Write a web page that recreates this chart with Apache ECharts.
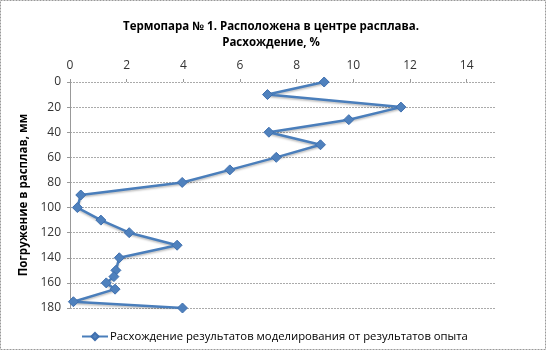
<!DOCTYPE html>
<html lang="ru">
<head>
    <meta charset="UTF-8">
    <title>Термопара № 1</title>
    <script src="https://cdn.jsdelivr.net/npm/echarts@6/dist/echarts.min.js"></script>
    <style>
        html, body { margin: 0; padding: 0; background: #fff; }
        #chart { width: 547px; height: 351px; }
    </style>
</head>
<body>
<div id="chart"></div>
<script>
    // глубина погружения, мм
    var depth = [0, 10, 20, 30, 40, 50, 60, 70, 80, 90, 100, 110, 120, 130, 140, 150, 155, 160, 165, 175, 180];
    // расхождение, %
    var diff = [8.97, 6.97, 11.68, 9.84, 7.02, 8.84, 7.28, 5.64, 3.96, 0.38, 0.26, 1.09, 2.09, 3.78, 1.74, 1.62, 1.55, 1.28, 1.59, 0.12, 3.97];
    var xTicks = [0, 2, 4, 6, 8, 10, 12, 14];
    var yTicks = [0, 20, 40, 60, 80, 100, 120, 140, 160, 180];

    var points = [];
    for (var i = 0; i < depth.length; i++) {
        points.push([diff[i], depth[i]]);
    }

    var chart = echarts.init(document.getElementById('chart'));
    var font = '"Open Sans", "Noto Sans", sans-serif';
    var option = {
        animation: false,
        title: {
            text: 'Термопара № 1. Расположена в центре расплава.\nРасхождение, %',
            left: 266,
            top: 14,
            textAlign: 'center',
            textStyle: {
                fontFamily: font,
                fontSize: 11.5,
                fontWeight: 'bold',
                color: '#000',
                lineHeight: 16
            }
        },
        legend: {
            data: ['Расхождение результатов моделирования от результатов опыта'],
            left: 76,
            top: 326,
            itemWidth: 26,
            itemHeight: 9,
            itemGap: 4,
            textStyle: {fontFamily: font, fontSize: 11.3, color: '#000', padding: [0, 0, 0, -3]}
        },
        grid: {
            left: 70,
            right: 52,
            top: 82,
            bottom: 43
        },
        xAxis: {
            type: 'value',
            position: 'top',
            min: 0,
            max: 15,
            interval: 2,
            axisLine: {show: false},
            axisTick: {show: true, length: 3, customValues: xTicks, lineStyle: {color: '#999'}},
            axisLabel: {customValues: xTicks, margin: 10, fontFamily: font, fontSize: 12, color: '#333'},
            splitLine: {show: false}
        },
        yAxis: {
            type: 'value',
            inverse: true,
            min: 0,
            max: 180,
            interval: 20,
            name: 'Погружение в расплав, мм',
            nameLocation: 'middle',
            nameGap: 38,
            nameRotate: 90,
            nameTextStyle: {fontFamily: font, fontSize: 11.5, fontWeight: 'bold', color: '#000'},
            axisLine: {show: true, lineStyle: {color: '#999'}},
            axisTick: {show: true, length: 3, lineStyle: {color: '#999'}},
            axisLabel: {customValues: yTicks, margin: 9, fontFamily: font, fontSize: 12, color: '#333'},
            splitLine: {show: true, lineStyle: {color: '#aaa', type: [2, 1], width: 1}}
        },
        graphic: [{
            type: 'rect',
            shape: {x: 0.5, y: 0.5, width: 545, height: 349},
            style: {fill: 'none', stroke: '#999', lineDash: [2, 1], lineWidth: 1},
            silent: true
        }],
        series: [{
            name: 'Расхождение результатов моделирования от результатов опыта',
            type: 'line',
            data: points,
            symbol: 'diamond',
            symbolSize: 10,
            lineStyle: {
                color: '#4a7ebb',
                width: 2.5,
                shadowColor: 'rgba(0,0,0,0.25)',
                shadowBlur: 2,
                shadowOffsetY: 1.5
            },
            itemStyle: {
                color: '#4f81bd',
                borderColor: '#3f6fae',
                borderWidth: 1
            }
        }]
    };
    chart.setOption(option);
</script>
</body>
</html>
